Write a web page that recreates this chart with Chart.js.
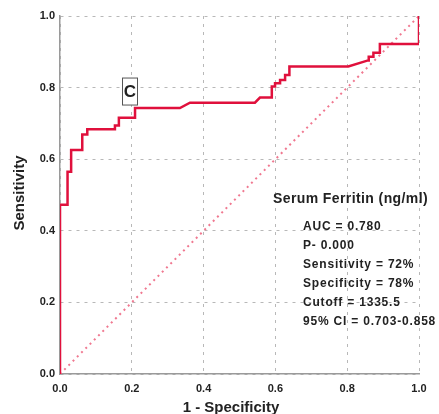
<!DOCTYPE html>
<html>
<head>
<meta charset="utf-8">
<script src="https://cdn.jsdelivr.net/npm/chart.js@4"></script>
<style>
  body { margin: 0; background: #fff; }
  canvas { display: block; }
</style>
</head>
<body>
<canvas id="roc" width="439" height="414"></canvas>
<script>
// ROC curve (1 - specificity, sensitivity)
const fpr = [0, 0, 0.021, 0.021, 0.031, 0.031, 0.062, 0.062, 0.076, 0.076, 0.153, 0.153, 0.164, 0.164, 0.209, 0.209, 0.334, 0.362, 0.543, 0.557, 0.59, 0.59, 0.599, 0.599, 0.613, 0.613, 0.627, 0.627, 0.639, 0.639, 0.803, 0.858, 0.86, 0.86, 0.873, 0.873, 0.891, 0.891, 1, 1];
const tpr = [0, 0.473, 0.473, 0.565, 0.565, 0.626, 0.626, 0.669, 0.669, 0.684, 0.684, 0.694, 0.694, 0.716, 0.716, 0.743, 0.743, 0.758, 0.758, 0.772, 0.772, 0.803, 0.803, 0.812, 0.812, 0.821, 0.821, 0.835, 0.835, 0.859, 0.859, 0.876, 0.876, 0.886, 0.886, 0.897, 0.897, 0.922, 0.922, 1];
const refX = [0, 1];
const refY = [0, 1];

const panelLabel = 'C';
const legendTitle = 'Serum Ferritin (ng/ml)';
const stats = ['AUC = 0.780', 'P- 0.000', 'Sensitivity = 72%', 'Specificity = 78%', 'Cutoff = 1335.5', '95% CI = 0.703-0.858'];
const xTitle = '1 - Specificity';
const yTitle = 'Sensitivity';

const FONT = '"Liberation Sans", Arial, sans-serif';

const notes = {
  id: 'notes',
  afterDraw(chart) {
    const {ctx, scales: {x, y}} = chart;
    ctx.save();

    // panel letter in its box
    const cx = x.getPixelForValue(0.195), cy = y.getPixelForValue(0.789);
    ctx.fillStyle = '#fff';
    ctx.fillRect(cx - 7.5, cy - 13.5, 15, 27);
    ctx.strokeStyle = '#555';
    ctx.lineWidth = 1;
    ctx.strokeRect(cx - 7.5, cy - 13.5, 15, 27);
    ctx.fillStyle = '#222';
    ctx.font = 'bold 17px ' + FONT;
    ctx.textAlign = 'center';
    ctx.textBaseline = 'middle';
    ctx.fillText(panelLabel, cx, cy + 1);

    // legend text block
    ctx.textAlign = 'left';
    ctx.textBaseline = 'alphabetic';
    ctx.font = 'bold 14px ' + FONT;
    ctx.letterSpacing = '0.4px';
    ctx.fillText(legendTitle, 273, 203);
    ctx.font = 'bold 12px ' + FONT;
    ctx.letterSpacing = '0.8px';
    stats.forEach((s, i) => ctx.fillText(s, 303, 230 + i * 19));
    ctx.letterSpacing = '0px';

    // axis titles
    ctx.font = 'bold 15px ' + FONT;
    ctx.textAlign = 'center';
    ctx.fillText(xTitle, 231, 412);
    ctx.translate(23.5, 193);
    ctx.rotate(-Math.PI / 2);
    ctx.fillText(yTitle, 0, 0);
    ctx.restore();
  }
};

const ctx = document.getElementById('roc').getContext('2d');
new Chart(ctx, {
  type: 'scatter',
  data: {
    datasets: [{
      data: fpr.map((v, i) => ({x: v, y: tpr[i]})),
      showLine: true,
      borderColor: '#e0103c',
      borderWidth: 2.5,
      pointRadius: 0,
      fill: false
    }, {
      data: refX.map((v, i) => ({x: v, y: refY[i]})),
      showLine: true,
      borderColor: '#f07890',
      borderWidth: 2,
      borderDash: [2, 4],
      pointRadius: 0,
      fill: false
    }]
  },
  options: {
    responsive: false,
    devicePixelRatio: 1,
    animation: false,
    layout: { padding: { top: 16, right: 20, left: 0, bottom: 0 } },
    plugins: { legend: { display: false }, tooltip: { enabled: false } },
    scales: {
      x: {
        type: 'linear', min: 0, max: 1,
        afterFit: s => { s.height = 40; },
        ticks: { stepSize: 0.2, padding: 8, color: '#222', font: { family: FONT, size: 11, weight: 'bold' }, callback: v => v.toFixed(1) },
        grid: { color: '#b8b8b8', drawTicks: false, lineWidth: 1 },
        border: { color: '#9a9a9a', width: 1.5, dash: [3, 5] }
      },
      y: {
        type: 'linear', min: 0, max: 1,
        afterFit: s => { s.width = 60; },
        ticks: { stepSize: 0.2, padding: 5, color: '#222', font: { family: FONT, size: 11, weight: 'bold' }, callback: v => v.toFixed(1) },
        grid: { color: '#b8b8b8', drawTicks: false, lineWidth: 1 },
        border: { color: '#9a9a9a', width: 1.5, dash: [3, 5] }
      }
    }
  },
  plugins: [notes]
});
</script>
</body>
</html>
